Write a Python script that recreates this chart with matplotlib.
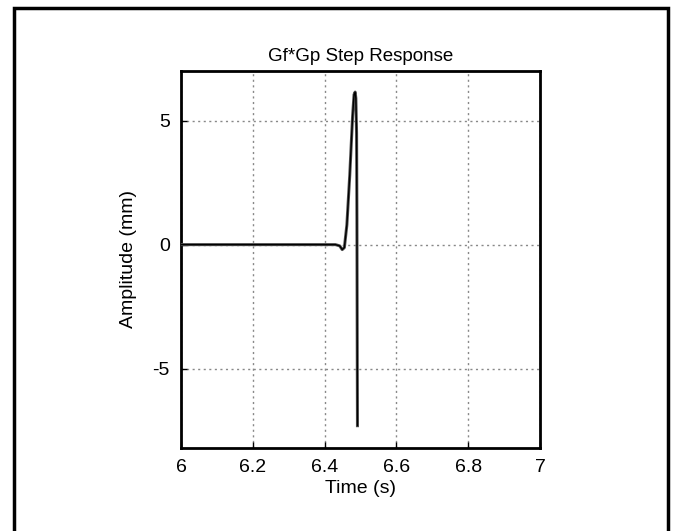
import numpy as np
import matplotlib
matplotlib.use("Agg")
import matplotlib.pyplot as plt
from matplotlib.patches import Rectangle

plt.rcParams["font.family"] = ["Liberation Sans", "DejaVu Sans"]
plt.rcParams.update({'font.size': 14, 'axes.unicode_minus': False})

# step response
time = [6.0, 6.43, 6.442, 6.449, 6.455, 6.462, 6.470, 6.478, 6.482,
        6.485, 6.487, 6.489, 6.490, 6.4905, 6.491, 6.4915]
amp = [0.0, 0.0, -0.05, -0.2, -0.12, 0.8, 2.8, 5.2, 6.05,
       6.15, 5.9, 4.5, 1.0, -2.0, -4.8, -7.3]

xticks = [6, 6.2, 6.4, 6.6, 6.8, 7]
xticklabels = ['6', '6.2', '6.4', '6.6', '6.8', '7']
yticks = [-5, 0, 5]

fig = plt.figure(figsize=(6.74, 5.31), dpi=100)
ax = fig.add_axes([0.2686, 0.1563, 0.5326, 0.71])

ax.plot(time, amp, color='#555555', linewidth=2.2, zorder=3)
ax.plot(time, amp, color='black', linewidth=1.0, zorder=4)

ax.set_xlim(6, 7)
ax.set_ylim(-8.2, 7)
ax.set_xticks(xticks)
ax.set_xticklabels(xticklabels)
ax.set_yticks(yticks)
ax.tick_params(direction='in', length=4, width=1, pad=8)
ax.grid(True, color='#888888', linestyle=(0, (1.5, 2.5)), linewidth=1.0)
for s in ax.spines.values():
    s.set_linewidth(2)

ax.set_title('Gf*Gp Step Response', fontsize=13.5, pad=7)
ax.set_xlabel('Time (s)', labelpad=3)
ax.set_ylabel('Amplitude (mm)', labelpad=11)

# outer frame around the whole picture
fig.patches.append(Rectangle((0.0208, -0.02), 0.9703, 1.005,
                             transform=fig.transFigure, fill=False,
                             edgecolor='black', linewidth=2.5))

fig.savefig('out.png', dpi=100)
